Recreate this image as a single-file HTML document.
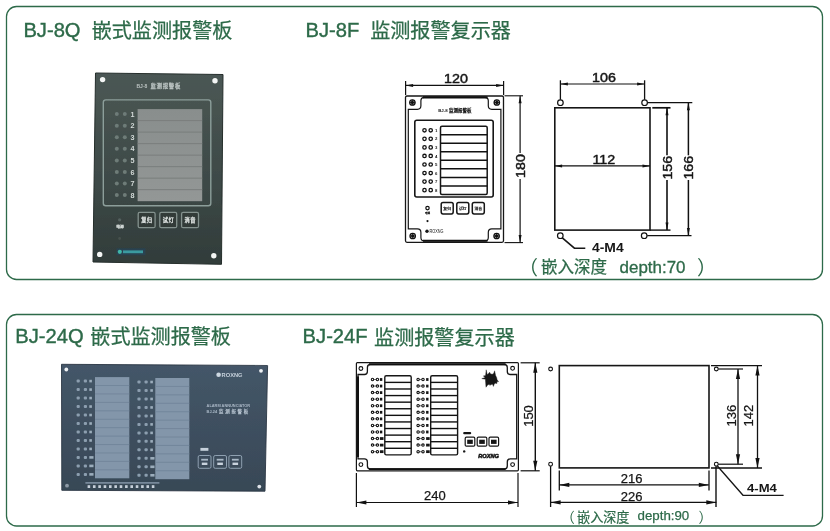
<!DOCTYPE html><html><head><meta charset="utf-8"><title>BJ</title><style>html,body{margin:0;padding:0;background:#fff}svg{display:block;will-change:transform}</style></head><body><svg role="img" aria-label="BJ-8Q 嵌式监测报警板 / BJ-8F 监测报警复示器 / BJ-24Q 嵌式监测报警板 / BJ-24F 监测报警复示器" width="830" height="531" viewBox="0 0 830 531"><rect width="830" height="531" fill="#fff"/>
<rect x="6.50" y="6.50" width="816.00" height="273.00" rx="10" fill="none" stroke="#2d6a49" stroke-width="1.3" />
<rect x="6.50" y="314.50" width="816.00" height="211.50" rx="10" fill="none" stroke="#2d6a49" stroke-width="1.3" />
<text transform="translate(23.40,36.50) scale(0.97,1)" font-family="Liberation Sans, sans-serif" font-size="20.8" font-weight="normal" fill="#2d6a49" text-anchor="start"  stroke="#2d6a49" stroke-width="0.4">BJ-8Q</text>
<text x="91.7" y="38.2" font-family="'Liberation Sans', 'Noto Sans CJK SC', sans-serif" font-size="20.1" fill="#2d6a49" stroke="#2d6a49" stroke-width="0.25" text-anchor="start">嵌式监测报警板</text>
<text transform="translate(305.50,36.50) scale(0.97,1)" font-family="Liberation Sans, sans-serif" font-size="20.8" font-weight="normal" fill="#2d6a49" text-anchor="start"  stroke="#2d6a49" stroke-width="0.4">BJ-8F</text>
<text x="370.2" y="38.2" font-family="'Liberation Sans', 'Noto Sans CJK SC', sans-serif" font-size="20.1" fill="#2d6a49" stroke="#2d6a49" stroke-width="0.25" text-anchor="start">监测报警复示器</text>
<text transform="translate(15.30,342.60) scale(0.97,1)" font-family="Liberation Sans, sans-serif" font-size="20.8" font-weight="normal" fill="#2d6a49" text-anchor="start"  stroke="#2d6a49" stroke-width="0.4">BJ-24Q</text>
<text x="90.3" y="344.4" font-family="'Liberation Sans', 'Noto Sans CJK SC', sans-serif" font-size="20.1" fill="#2d6a49" stroke="#2d6a49" stroke-width="0.25" text-anchor="start">嵌式监测报警板</text>
<text transform="translate(302.60,342.60) scale(0.97,1)" font-family="Liberation Sans, sans-serif" font-size="20.8" font-weight="normal" fill="#2d6a49" text-anchor="start"  stroke="#2d6a49" stroke-width="0.4">BJ-24F</text>
<text x="374.1" y="344.6" font-family="'Liberation Sans', 'Noto Sans CJK SC', sans-serif" font-size="20.1" fill="#2d6a49" stroke="#2d6a49" stroke-width="0.25" text-anchor="start">监测报警复示器</text>
<defs><linearGradient id="p1" x1="0" y1="0" x2="0" y2="1"><stop offset="0" stop-color="#4b5754"/><stop offset="0.5" stop-color="#3f4b49"/><stop offset="1" stop-color="#313c3a"/></linearGradient><linearGradient id="p2" x1="0" y1="0" x2="0" y2="1"><stop offset="0" stop-color="#445668"/><stop offset="1" stop-color="#384856"/></linearGradient><linearGradient id="d1" x1="0" y1="0" x2="0" y2="1"><stop offset="0" stop-color="#898e8d"/><stop offset="1" stop-color="#939796"/></linearGradient><filter id="b1" x="-5%" y="-5%" width="110%" height="110%"><feGaussianBlur stdDeviation="0.7"/></filter><filter id="b2" x="-5%" y="-5%" width="110%" height="110%"><feGaussianBlur stdDeviation="0.5"/></filter></defs>
<g filter="url(#b1)">
<polygon points="95.5,73 223,74.5 221.5,264.3 93,262" fill="url(#p1)"/>
<polygon points="95.5,73 223,74.5 221.5,264.3 93,262" fill="none" stroke="#252e2c" stroke-width="1"/>
<circle cx="102.6" cy="79.6" r="2.7" fill="#f4f6f5"/>
<circle cx="215" cy="80.8" r="2.7" fill="#f4f6f5"/>
<circle cx="99.7" cy="254.4" r="2.7" fill="#f4f6f5"/>
<circle cx="213.8" cy="255.7" r="2.7" fill="#f4f6f5"/>
<text transform="translate(136.50,88.40) scale(1.0,1)" font-family="Liberation Sans, sans-serif" font-size="5" font-weight="bold" fill="#b9c2c0" text-anchor="start" >BJ-8</text>
<text x="150.5 156.6 162.7 168.8 174.9" y="88.35" font-family="'Liberation Sans', 'Noto Sans CJK SC', sans-serif" font-size="5.4" fill="#b9c2c0" stroke="#b9c2c0" stroke-width="0.3" text-anchor="start">监测报警板</text>
<rect x="103.30" y="99.90" width="107.50" height="105.90" rx="2.5" fill="none" stroke="#8c9e9a" stroke-width="1.4" />
<rect x="137.60" y="109.10" width="64.60" height="92.10" rx="0" fill="url(#d1)" stroke="none" stroke-width="0" />
<line x1="137.60" y1="120.61" x2="202.20" y2="120.61" stroke="#777c7b" stroke-width="0.9" />
<line x1="137.60" y1="132.12" x2="202.20" y2="132.12" stroke="#777c7b" stroke-width="0.9" />
<line x1="137.60" y1="143.63" x2="202.20" y2="143.63" stroke="#777c7b" stroke-width="0.9" />
<line x1="137.60" y1="155.14" x2="202.20" y2="155.14" stroke="#777c7b" stroke-width="0.9" />
<line x1="137.60" y1="166.65" x2="202.20" y2="166.65" stroke="#777c7b" stroke-width="0.9" />
<line x1="137.60" y1="178.16" x2="202.20" y2="178.16" stroke="#777c7b" stroke-width="0.9" />
<line x1="137.60" y1="189.67" x2="202.20" y2="189.67" stroke="#777c7b" stroke-width="0.9" />
<circle cx="116.8" cy="114.10" r="2" fill="#6e7b78"/>
<circle cx="124.8" cy="114.10" r="2" fill="#6e7b78"/>
<text transform="translate(132.40,116.70) scale(1.0,1)" font-family="Liberation Sans, sans-serif" font-size="7.2" font-weight="bold" fill="#d3dad8" text-anchor="middle" >1</text>
<circle cx="116.8" cy="125.67" r="2" fill="#6e7b78"/>
<circle cx="124.8" cy="125.67" r="2" fill="#6e7b78"/>
<text transform="translate(132.40,128.27) scale(1.0,1)" font-family="Liberation Sans, sans-serif" font-size="7.2" font-weight="bold" fill="#d3dad8" text-anchor="middle" >2</text>
<circle cx="116.8" cy="137.24" r="2" fill="#6e7b78"/>
<circle cx="124.8" cy="137.24" r="2" fill="#6e7b78"/>
<text transform="translate(132.40,139.84) scale(1.0,1)" font-family="Liberation Sans, sans-serif" font-size="7.2" font-weight="bold" fill="#d3dad8" text-anchor="middle" >3</text>
<circle cx="116.8" cy="148.81" r="2" fill="#6e7b78"/>
<circle cx="124.8" cy="148.81" r="2" fill="#6e7b78"/>
<text transform="translate(132.40,151.41) scale(1.0,1)" font-family="Liberation Sans, sans-serif" font-size="7.2" font-weight="bold" fill="#d3dad8" text-anchor="middle" >4</text>
<circle cx="116.8" cy="160.38" r="2" fill="#6e7b78"/>
<circle cx="124.8" cy="160.38" r="2" fill="#6e7b78"/>
<text transform="translate(132.40,162.98) scale(1.0,1)" font-family="Liberation Sans, sans-serif" font-size="7.2" font-weight="bold" fill="#d3dad8" text-anchor="middle" >5</text>
<circle cx="116.8" cy="171.95" r="2" fill="#6e7b78"/>
<circle cx="124.8" cy="171.95" r="2" fill="#6e7b78"/>
<text transform="translate(132.40,174.55) scale(1.0,1)" font-family="Liberation Sans, sans-serif" font-size="7.2" font-weight="bold" fill="#d3dad8" text-anchor="middle" >6</text>
<circle cx="116.8" cy="183.52" r="2" fill="#6e7b78"/>
<circle cx="124.8" cy="183.52" r="2" fill="#6e7b78"/>
<text transform="translate(132.40,186.12) scale(1.0,1)" font-family="Liberation Sans, sans-serif" font-size="7.2" font-weight="bold" fill="#d3dad8" text-anchor="middle" >7</text>
<circle cx="116.8" cy="195.09" r="2" fill="#6e7b78"/>
<circle cx="124.8" cy="195.09" r="2" fill="#6e7b78"/>
<text transform="translate(132.40,197.69) scale(1.0,1)" font-family="Liberation Sans, sans-serif" font-size="7.2" font-weight="bold" fill="#d3dad8" text-anchor="middle" >8</text>
<rect x="138.20" y="212.40" width="16.90" height="15.30" rx="1.5" fill="#303a38" stroke="#84928e" stroke-width="1.3" />
<rect x="159.80" y="212.40" width="16.90" height="15.30" rx="1.5" fill="#303a38" stroke="#84928e" stroke-width="1.3" />
<rect x="181.60" y="212.40" width="16.90" height="15.30" rx="1.5" fill="#303a38" stroke="#84928e" stroke-width="1.3" />
<text x="141.2 146.8" y="221.8" font-family="'Liberation Sans', 'Noto Sans CJK SC', sans-serif" font-size="5.2" fill="#dfe4e2" stroke="#dfe4e2" stroke-width="0.3" text-anchor="start">复归</text>
<text x="162.8 168.4" y="221.8" font-family="'Liberation Sans', 'Noto Sans CJK SC', sans-serif" font-size="5.2" fill="#dfe4e2" stroke="#dfe4e2" stroke-width="0.3" text-anchor="start">试灯</text>
<text x="184.6 190.2" y="221.8" font-family="'Liberation Sans', 'Noto Sans CJK SC', sans-serif" font-size="5.2" fill="#dfe4e2" stroke="#dfe4e2" stroke-width="0.3" text-anchor="start">消音</text>
<circle cx="119.6" cy="219.8" r="1.6" fill="#56625f"/>
<text x="116.2 120.1" y="228.1" font-family="'Liberation Sans', 'Noto Sans CJK SC', sans-serif" font-size="3.8" fill="#d5dbd9" stroke="#d5dbd9" stroke-width="0.3" text-anchor="start">电源</text>
<circle cx="119.6" cy="238.5" r="1.4" fill="#46514e"/>
<rect x="116.5" y="248.3" width="29" height="7" fill="#27465a" opacity="0.7"/>
<circle cx="119.8" cy="251.8" r="2.1" fill="#3fb6a8"/>
<rect x="123" y="250.4" width="20" height="2.8" fill="#3a9aa0"/>
</g>
<text transform="translate(456.00,83.00) scale(1.1,1)" font-family="Liberation Sans, sans-serif" font-size="13" font-weight="normal" fill="#161616" text-anchor="middle"  stroke="#161616" stroke-width="0.45">120</text>
<line x1="405.60" y1="85.40" x2="503.60" y2="85.40" stroke="#111" stroke-width="1.1" />
<polygon points="405.60,85.40 413.10,83.90 413.10,86.90" fill="#111"/>
<polygon points="503.60,85.40 496.10,86.90 496.10,83.90" fill="#111"/>
<line x1="405.60" y1="81.00" x2="405.60" y2="95.00" stroke="#111" stroke-width="1.2" />
<line x1="503.60" y1="81.00" x2="503.60" y2="95.00" stroke="#111" stroke-width="1.2" />
<rect x="405.50" y="96.00" width="98.00" height="146.30" rx="1.5" fill="#fff" stroke="#161616" stroke-width="1.3" />
<path d="M424.40000000000003,97.3 L484.79999999999995,97.3 Q488.29999999999995,97.3 488.29999999999995,100.8 L488.29999999999995,105.8 Q488.29999999999995,109.3 491.79999999999995,109.3 L500.9,109.3 L500.9,228.9 L491.79999999999995,228.9 Q488.29999999999995,228.9 488.29999999999995,232.4 L488.29999999999995,237.4 Q488.29999999999995,240.9 484.79999999999995,240.9 L424.40000000000003,240.9 Q420.90000000000003,240.9 420.90000000000003,237.4 L420.90000000000003,232.4 Q420.90000000000003,228.9 417.40000000000003,228.9 L408.3,228.9 L408.3,109.3 L417.40000000000003,109.3 Q420.90000000000003,109.3 420.90000000000003,105.8 L420.90000000000003,100.8 Q420.90000000000003,97.3 424.40000000000003,97.3 Z" fill="none" stroke="#161616" stroke-width="1.2"/>
<line x1="423.00" y1="97.40" x2="487.50" y2="97.40" stroke="#111" stroke-width="2.1" />
<line x1="423.00" y1="240.70" x2="487.50" y2="240.70" stroke="#111" stroke-width="2.1" />
<circle cx="412.40" cy="102.50" r="2.7" fill="#fff" stroke="#111" stroke-width="1.3"/>
<circle cx="412.4" cy="102.5" r="1.7" fill="#161616"/>
<line x1="409.70" y1="102.50" x2="415.10" y2="102.50" stroke="#111" stroke-width="0.8" />
<line x1="412.40" y1="99.80" x2="412.40" y2="105.20" stroke="#111" stroke-width="0.8" />
<circle cx="496.80" cy="102.50" r="2.7" fill="#fff" stroke="#111" stroke-width="1.3"/>
<circle cx="496.8" cy="102.5" r="1.7" fill="#161616"/>
<line x1="494.10" y1="102.50" x2="499.50" y2="102.50" stroke="#111" stroke-width="0.8" />
<line x1="496.80" y1="99.80" x2="496.80" y2="105.20" stroke="#111" stroke-width="0.8" />
<circle cx="412.70" cy="236.00" r="2.7" fill="#fff" stroke="#111" stroke-width="1.3"/>
<circle cx="412.7" cy="236" r="1.7" fill="#161616"/>
<line x1="410.00" y1="236.00" x2="415.40" y2="236.00" stroke="#111" stroke-width="0.8" />
<line x1="412.70" y1="233.30" x2="412.70" y2="238.70" stroke="#111" stroke-width="0.8" />
<circle cx="496.60" cy="236.00" r="2.7" fill="#fff" stroke="#111" stroke-width="1.3"/>
<circle cx="496.6" cy="236" r="1.7" fill="#161616"/>
<line x1="493.90" y1="236.00" x2="499.30" y2="236.00" stroke="#111" stroke-width="0.8" />
<line x1="496.60" y1="233.30" x2="496.60" y2="238.70" stroke="#111" stroke-width="0.8" />
<text transform="translate(438.20,111.60) scale(1.0,1)" font-family="Liberation Sans, sans-serif" font-size="4.4" font-weight="bold" fill="#161616" text-anchor="start" >BJ-8</text>
<text x="449 453.5 458 462.5 467" y="111.6" font-family="'Liberation Sans', 'Noto Sans CJK SC', sans-serif" font-size="4.5" fill="#161616" stroke="#161616" stroke-width="0.25" text-anchor="start">监测报警板</text>
<rect x="414.80" y="120.30" width="78.40" height="76.70" rx="2" fill="none" stroke="#161616" stroke-width="1.6" />
<rect x="440.50" y="126.20" width="46.70" height="68.20" rx="1.5" fill="none" stroke="#161616" stroke-width="1.5" />
<line x1="440.50" y1="134.73" x2="487.20" y2="134.73" stroke="#111" stroke-width="1.5" />
<line x1="440.50" y1="143.26" x2="487.20" y2="143.26" stroke="#111" stroke-width="1.5" />
<line x1="440.50" y1="151.79" x2="487.20" y2="151.79" stroke="#111" stroke-width="1.5" />
<line x1="440.50" y1="160.32" x2="487.20" y2="160.32" stroke="#111" stroke-width="1.5" />
<line x1="440.50" y1="168.85" x2="487.20" y2="168.85" stroke="#111" stroke-width="1.5" />
<line x1="440.50" y1="177.38" x2="487.20" y2="177.38" stroke="#111" stroke-width="1.5" />
<line x1="440.50" y1="185.91" x2="487.20" y2="185.91" stroke="#111" stroke-width="1.5" />
<circle cx="424.50" cy="130.30" r="1.7" fill="#fff" stroke="#111" stroke-width="1.3"/>
<circle cx="430.70" cy="130.30" r="1.7" fill="#fff" stroke="#111" stroke-width="1.3"/>
<text transform="translate(436.20,131.90) scale(1.0,1)" font-family="Liberation Sans, sans-serif" font-size="4.3" font-weight="bold" fill="#161616" text-anchor="middle" >1</text>
<circle cx="424.50" cy="138.85" r="1.7" fill="#fff" stroke="#111" stroke-width="1.3"/>
<circle cx="430.70" cy="138.85" r="1.7" fill="#fff" stroke="#111" stroke-width="1.3"/>
<text transform="translate(436.20,140.45) scale(1.0,1)" font-family="Liberation Sans, sans-serif" font-size="4.3" font-weight="bold" fill="#161616" text-anchor="middle" >2</text>
<circle cx="424.50" cy="147.40" r="1.7" fill="#fff" stroke="#111" stroke-width="1.3"/>
<circle cx="430.70" cy="147.40" r="1.7" fill="#fff" stroke="#111" stroke-width="1.3"/>
<text transform="translate(436.20,149.00) scale(1.0,1)" font-family="Liberation Sans, sans-serif" font-size="4.3" font-weight="bold" fill="#161616" text-anchor="middle" >3</text>
<circle cx="424.50" cy="155.95" r="1.7" fill="#fff" stroke="#111" stroke-width="1.3"/>
<circle cx="430.70" cy="155.95" r="1.7" fill="#fff" stroke="#111" stroke-width="1.3"/>
<text transform="translate(436.20,157.55) scale(1.0,1)" font-family="Liberation Sans, sans-serif" font-size="4.3" font-weight="bold" fill="#161616" text-anchor="middle" >4</text>
<circle cx="424.50" cy="164.50" r="1.7" fill="#fff" stroke="#111" stroke-width="1.3"/>
<circle cx="430.70" cy="164.50" r="1.7" fill="#fff" stroke="#111" stroke-width="1.3"/>
<text transform="translate(436.20,166.10) scale(1.0,1)" font-family="Liberation Sans, sans-serif" font-size="4.3" font-weight="bold" fill="#161616" text-anchor="middle" >5</text>
<circle cx="424.50" cy="173.05" r="1.7" fill="#fff" stroke="#111" stroke-width="1.3"/>
<circle cx="430.70" cy="173.05" r="1.7" fill="#fff" stroke="#111" stroke-width="1.3"/>
<text transform="translate(436.20,174.65) scale(1.0,1)" font-family="Liberation Sans, sans-serif" font-size="4.3" font-weight="bold" fill="#161616" text-anchor="middle" >6</text>
<circle cx="424.50" cy="181.60" r="1.7" fill="#fff" stroke="#111" stroke-width="1.3"/>
<circle cx="430.70" cy="181.60" r="1.7" fill="#fff" stroke="#111" stroke-width="1.3"/>
<text transform="translate(436.20,183.20) scale(1.0,1)" font-family="Liberation Sans, sans-serif" font-size="4.3" font-weight="bold" fill="#161616" text-anchor="middle" >7</text>
<circle cx="424.50" cy="190.15" r="1.7" fill="#fff" stroke="#111" stroke-width="1.3"/>
<circle cx="430.70" cy="190.15" r="1.7" fill="#fff" stroke="#111" stroke-width="1.3"/>
<text transform="translate(436.20,191.75) scale(1.0,1)" font-family="Liberation Sans, sans-serif" font-size="4.3" font-weight="bold" fill="#161616" text-anchor="middle" >8</text>
<rect x="441.20" y="202.40" width="12.00" height="11.50" rx="1.8" fill="none" stroke="#161616" stroke-width="1.5" />
<rect x="456.80" y="202.40" width="12.00" height="11.50" rx="1.8" fill="none" stroke="#161616" stroke-width="1.5" />
<rect x="472.30" y="202.40" width="12.00" height="11.50" rx="1.8" fill="none" stroke="#161616" stroke-width="1.5" />
<text x="443.3 447.2" y="209.5" font-family="'Liberation Sans', 'Noto Sans CJK SC', sans-serif" font-size="3.9" fill="#161616" stroke="#161616" stroke-width="0.2" text-anchor="start">复归</text>
<text x="458.9 462.8" y="209.5" font-family="'Liberation Sans', 'Noto Sans CJK SC', sans-serif" font-size="3.9" fill="#161616" stroke="#161616" stroke-width="0.2" text-anchor="start">试灯</text>
<text x="474.4 478.3" y="209.5" font-family="'Liberation Sans', 'Noto Sans CJK SC', sans-serif" font-size="3.9" fill="#161616" stroke="#161616" stroke-width="0.2" text-anchor="start">消音</text>
<circle cx="427.50" cy="208.10" r="1.7" fill="#fff" stroke="#111" stroke-width="1.2"/>
<text x="424.9 427.5" y="214.0" font-family="'Liberation Sans', 'Noto Sans CJK SC', sans-serif" font-size="2.6" fill="#161616" stroke="#161616" stroke-width="0.2" text-anchor="start">电源</text>
<circle cx="427.5" cy="221.1" r="1.1" fill="#161616"/>
<circle cx="427" cy="231.2" r="1.7" fill="#161616"/>
<text transform="translate(429.60,232.90) scale(0.76,1)" font-family="Liberation Sans, sans-serif" font-size="5" font-weight="normal" fill="#161616" text-anchor="start" >ROXNG</text>
<line x1="504.50" y1="95.80" x2="523.00" y2="95.80" stroke="#111" stroke-width="1.1" />
<line x1="504.50" y1="242.60" x2="523.00" y2="242.60" stroke="#111" stroke-width="1.1" />
<line x1="520.10" y1="95.80" x2="520.10" y2="153.00" stroke="#111" stroke-width="1.2" />
<line x1="520.10" y1="179.00" x2="520.10" y2="242.60" stroke="#111" stroke-width="1.2" />
<polygon points="520.10,95.80 521.60,103.30 518.60,103.30" fill="#111"/>
<polygon points="520.10,242.60 518.60,235.10 521.60,235.10" fill="#111"/>
<text transform="translate(524.60,166.10) rotate(-90) scale(1.1,1)" font-family="Liberation Sans, sans-serif" font-size="13" font-weight="normal" fill="#161616" text-anchor="middle"  stroke="#161616" stroke-width="0.45">180</text>
<text transform="translate(604.00,82.20) scale(1.1,1)" font-family="Liberation Sans, sans-serif" font-size="13" font-weight="normal" fill="#161616" text-anchor="middle"  stroke="#161616" stroke-width="0.45">106</text>
<line x1="560.40" y1="84.00" x2="644.60" y2="84.00" stroke="#111" stroke-width="1.1" />
<polygon points="560.40,84.00 567.90,82.50 567.90,85.50" fill="#111"/>
<polygon points="644.60,84.00 637.10,85.50 637.10,82.50" fill="#111"/>
<line x1="560.40" y1="80.30" x2="560.40" y2="99.70" stroke="#111" stroke-width="1.3" />
<line x1="644.60" y1="80.30" x2="644.60" y2="99.70" stroke="#111" stroke-width="1.3" />
<circle cx="560.40" cy="102.70" r="2.8" fill="#fff" stroke="#111" stroke-width="1.2"/>
<circle cx="644.60" cy="102.70" r="2.8" fill="#fff" stroke="#111" stroke-width="1.2"/>
<circle cx="560.30" cy="235.70" r="2.8" fill="#fff" stroke="#111" stroke-width="1.2"/>
<circle cx="644.20" cy="235.70" r="2.8" fill="#fff" stroke="#111" stroke-width="1.2"/>
<rect x="554.80" y="107.80" width="95.20" height="122.30" rx="0" fill="none" stroke="#161616" stroke-width="1.6" />
<text transform="translate(603.80,163.60) scale(1.1,1)" font-family="Liberation Sans, sans-serif" font-size="13" font-weight="normal" fill="#161616" text-anchor="middle"  stroke="#161616" stroke-width="0.45">112</text>
<line x1="554.60" y1="165.90" x2="650.00" y2="165.90" stroke="#111" stroke-width="1.1" />
<polygon points="554.60,165.90 562.10,164.40 562.10,167.40" fill="#111"/>
<polygon points="650.00,165.90 642.50,167.40 642.50,164.40" fill="#111"/>
<line x1="647.60" y1="102.70" x2="692.30" y2="102.70" stroke="#111" stroke-width="1.3" />
<line x1="652.30" y1="107.80" x2="670.50" y2="107.80" stroke="#111" stroke-width="1.7" />
<line x1="650.00" y1="230.10" x2="670.50" y2="230.10" stroke="#111" stroke-width="1.4" />
<line x1="647.20" y1="235.70" x2="691.50" y2="235.70" stroke="#111" stroke-width="1.3" />
<line x1="667.00" y1="107.80" x2="667.00" y2="155.30" stroke="#111" stroke-width="1.6" />
<line x1="667.00" y1="180.00" x2="667.00" y2="230.10" stroke="#111" stroke-width="1.6" />
<polygon points="667.00,107.80 668.50,115.30 665.50,115.30" fill="#111"/>
<polygon points="667.00,230.10 665.50,222.60 668.50,222.60" fill="#111"/>
<line x1="688.40" y1="102.70" x2="688.40" y2="155.30" stroke="#111" stroke-width="1.5" />
<line x1="688.40" y1="180.00" x2="688.40" y2="235.60" stroke="#111" stroke-width="1.5" />
<polygon points="688.40,102.70 689.90,110.20 686.90,110.20" fill="#111"/>
<polygon points="688.40,235.60 686.90,228.10 689.90,228.10" fill="#111"/>
<text transform="translate(671.80,167.70) rotate(-90) scale(1.1,1)" font-family="Liberation Sans, sans-serif" font-size="13" font-weight="normal" fill="#161616" text-anchor="middle"  stroke="#161616" stroke-width="0.45">156</text>
<text transform="translate(693.20,167.70) rotate(-90) scale(1.1,1)" font-family="Liberation Sans, sans-serif" font-size="13" font-weight="normal" fill="#161616" text-anchor="middle"  stroke="#161616" stroke-width="0.45">166</text>
<polyline points="562.3,237.9 574.4,248.2 585.3,248.2" fill="none" stroke="#161616" stroke-width="1.6"/>
<text transform="translate(592.00,252.40) scale(1.07,1)" font-family="Liberation Sans, sans-serif" font-size="13" font-weight="bold" fill="#161616" text-anchor="start" >4-M4</text>
<text x="518.4" y="275.1" font-family="'Liberation Sans', 'Noto Sans CJK SC', sans-serif" font-size="19.5" fill="#2d6a49" text-anchor="start">（</text>
<text x="541" y="273.0" font-family="'Liberation Sans', 'Noto Sans CJK SC', sans-serif" font-size="16.5" fill="#2d6a49" stroke="#2d6a49" stroke-width="0.25" text-anchor="start">嵌入深度</text>
<text transform="translate(619.60,272.50) scale(1.06,1)" font-family="Liberation Sans, sans-serif" font-size="16" font-weight="normal" fill="#2d6a49" text-anchor="start"  stroke="#2d6a49" stroke-width="0.3">depth:70</text>
<text x="696.9" y="275.1" font-family="'Liberation Sans', 'Noto Sans CJK SC', sans-serif" font-size="19.5" fill="#2d6a49" text-anchor="start">）</text>
<g filter="url(#b2)">
<polygon points="61.5,364.3 267.6,365.5 265,491.2 61.8,490.3" fill="url(#p2)"/>
<polygon points="61.5,364.3 267.6,365.5 265,491.2 61.8,490.3" fill="none" stroke="#2b3744" stroke-width="0.9"/>
<circle cx="66.3" cy="369.5" r="1.9" fill="#eef1f4"/>
<circle cx="261" cy="370.8" r="1.9" fill="#eef1f4"/>
<circle cx="67" cy="485.7" r="1.9" fill="#8e9aa6"/>
<circle cx="259.3" cy="486.6" r="1.9" fill="#dfe4e9"/>
<rect x="95.00" y="377.10" width="34.30" height="101.20" rx="0" fill="#8396aa" stroke="none" stroke-width="0" />
<line x1="95.00" y1="385.53" x2="129.30" y2="385.53" stroke="#6f8398" stroke-width="0.8" />
<line x1="95.00" y1="393.96" x2="129.30" y2="393.96" stroke="#6f8398" stroke-width="0.8" />
<line x1="95.00" y1="402.39" x2="129.30" y2="402.39" stroke="#6f8398" stroke-width="0.8" />
<line x1="95.00" y1="410.82" x2="129.30" y2="410.82" stroke="#6f8398" stroke-width="0.8" />
<line x1="95.00" y1="419.25" x2="129.30" y2="419.25" stroke="#6f8398" stroke-width="0.8" />
<line x1="95.00" y1="427.68" x2="129.30" y2="427.68" stroke="#6f8398" stroke-width="0.8" />
<line x1="95.00" y1="436.11" x2="129.30" y2="436.11" stroke="#6f8398" stroke-width="0.8" />
<line x1="95.00" y1="444.54" x2="129.30" y2="444.54" stroke="#6f8398" stroke-width="0.8" />
<line x1="95.00" y1="452.97" x2="129.30" y2="452.97" stroke="#6f8398" stroke-width="0.8" />
<line x1="95.00" y1="461.40" x2="129.30" y2="461.40" stroke="#6f8398" stroke-width="0.8" />
<line x1="95.00" y1="469.83" x2="129.30" y2="469.83" stroke="#6f8398" stroke-width="0.8" />
<rect x="155.30" y="378.00" width="34.00" height="101.20" rx="0" fill="#8396aa" stroke="none" stroke-width="0" />
<line x1="155.30" y1="386.43" x2="189.30" y2="386.43" stroke="#6f8398" stroke-width="0.8" />
<line x1="155.30" y1="394.86" x2="189.30" y2="394.86" stroke="#6f8398" stroke-width="0.8" />
<line x1="155.30" y1="403.29" x2="189.30" y2="403.29" stroke="#6f8398" stroke-width="0.8" />
<line x1="155.30" y1="411.72" x2="189.30" y2="411.72" stroke="#6f8398" stroke-width="0.8" />
<line x1="155.30" y1="420.15" x2="189.30" y2="420.15" stroke="#6f8398" stroke-width="0.8" />
<line x1="155.30" y1="428.58" x2="189.30" y2="428.58" stroke="#6f8398" stroke-width="0.8" />
<line x1="155.30" y1="437.01" x2="189.30" y2="437.01" stroke="#6f8398" stroke-width="0.8" />
<line x1="155.30" y1="445.44" x2="189.30" y2="445.44" stroke="#6f8398" stroke-width="0.8" />
<line x1="155.30" y1="453.87" x2="189.30" y2="453.87" stroke="#6f8398" stroke-width="0.8" />
<line x1="155.30" y1="462.30" x2="189.30" y2="462.30" stroke="#6f8398" stroke-width="0.8" />
<line x1="155.30" y1="470.73" x2="189.30" y2="470.73" stroke="#6f8398" stroke-width="0.8" />
<rect x="76.60000000000001" y="379.60" width="3.2" height="3" rx="1" fill="#8c9eaf"/>
<rect x="83.80000000000001" y="379.60" width="3.2" height="3" rx="1" fill="#8c9eaf"/>
<rect x="89.3" y="379.80" width="2.6" height="2.6" fill="#9cadbc"/>
<rect x="76.60000000000001" y="388.08" width="3.2" height="3" rx="1" fill="#8c9eaf"/>
<rect x="83.80000000000001" y="388.08" width="3.2" height="3" rx="1" fill="#8c9eaf"/>
<rect x="89.3" y="388.28" width="2.6" height="2.6" fill="#9cadbc"/>
<rect x="76.60000000000001" y="396.56" width="3.2" height="3" rx="1" fill="#8c9eaf"/>
<rect x="83.80000000000001" y="396.56" width="3.2" height="3" rx="1" fill="#8c9eaf"/>
<rect x="89.3" y="396.76" width="2.6" height="2.6" fill="#9cadbc"/>
<rect x="76.60000000000001" y="405.04" width="3.2" height="3" rx="1" fill="#8c9eaf"/>
<rect x="83.80000000000001" y="405.04" width="3.2" height="3" rx="1" fill="#8c9eaf"/>
<rect x="89.3" y="405.24" width="2.6" height="2.6" fill="#9cadbc"/>
<rect x="76.60000000000001" y="413.52" width="3.2" height="3" rx="1" fill="#8c9eaf"/>
<rect x="83.80000000000001" y="413.52" width="3.2" height="3" rx="1" fill="#8c9eaf"/>
<rect x="89.3" y="413.72" width="2.6" height="2.6" fill="#9cadbc"/>
<rect x="76.60000000000001" y="422.00" width="3.2" height="3" rx="1" fill="#8c9eaf"/>
<rect x="83.80000000000001" y="422.00" width="3.2" height="3" rx="1" fill="#8c9eaf"/>
<rect x="89.3" y="422.20" width="2.6" height="2.6" fill="#9cadbc"/>
<rect x="76.60000000000001" y="430.48" width="3.2" height="3" rx="1" fill="#8c9eaf"/>
<rect x="83.80000000000001" y="430.48" width="3.2" height="3" rx="1" fill="#8c9eaf"/>
<rect x="89.3" y="430.68" width="2.6" height="2.6" fill="#9cadbc"/>
<rect x="76.60000000000001" y="438.96" width="3.2" height="3" rx="1" fill="#8c9eaf"/>
<rect x="83.80000000000001" y="438.96" width="3.2" height="3" rx="1" fill="#8c9eaf"/>
<rect x="89.3" y="439.16" width="2.6" height="2.6" fill="#9cadbc"/>
<rect x="76.60000000000001" y="447.44" width="3.2" height="3" rx="1" fill="#8c9eaf"/>
<rect x="83.80000000000001" y="447.44" width="3.2" height="3" rx="1" fill="#8c9eaf"/>
<rect x="89.3" y="447.64" width="2.6" height="2.6" fill="#9cadbc"/>
<rect x="76.60000000000001" y="455.92" width="3.2" height="3" rx="1" fill="#8c9eaf"/>
<rect x="83.80000000000001" y="455.92" width="3.2" height="3" rx="1" fill="#8c9eaf"/>
<rect x="89.3" y="456.12" width="4.2" height="2.6" fill="#9cadbc"/>
<rect x="76.60000000000001" y="464.40" width="3.2" height="3" rx="1" fill="#8c9eaf"/>
<rect x="83.80000000000001" y="464.40" width="3.2" height="3" rx="1" fill="#8c9eaf"/>
<rect x="89.3" y="464.60" width="4.2" height="2.6" fill="#9cadbc"/>
<rect x="76.60000000000001" y="472.88" width="3.2" height="3" rx="1" fill="#8c9eaf"/>
<rect x="83.80000000000001" y="472.88" width="3.2" height="3" rx="1" fill="#8c9eaf"/>
<rect x="89.3" y="473.08" width="4.2" height="2.6" fill="#9cadbc"/>
<rect x="137.4" y="380.50" width="3.2" height="3" rx="1" fill="#8c9eaf"/>
<rect x="144.5" y="380.50" width="3.2" height="3" rx="1" fill="#8c9eaf"/>
<rect x="150.29999999999998" y="380.70" width="2.6" height="2.6" fill="#9cadbc"/>
<rect x="137.4" y="388.98" width="3.2" height="3" rx="1" fill="#8c9eaf"/>
<rect x="144.5" y="388.98" width="3.2" height="3" rx="1" fill="#8c9eaf"/>
<rect x="150.29999999999998" y="389.18" width="2.6" height="2.6" fill="#9cadbc"/>
<rect x="137.4" y="397.46" width="3.2" height="3" rx="1" fill="#8c9eaf"/>
<rect x="144.5" y="397.46" width="3.2" height="3" rx="1" fill="#8c9eaf"/>
<rect x="150.29999999999998" y="397.66" width="2.6" height="2.6" fill="#9cadbc"/>
<rect x="137.4" y="405.94" width="3.2" height="3" rx="1" fill="#8c9eaf"/>
<rect x="144.5" y="405.94" width="3.2" height="3" rx="1" fill="#8c9eaf"/>
<rect x="150.29999999999998" y="406.14" width="2.6" height="2.6" fill="#9cadbc"/>
<rect x="137.4" y="414.42" width="3.2" height="3" rx="1" fill="#8c9eaf"/>
<rect x="144.5" y="414.42" width="3.2" height="3" rx="1" fill="#8c9eaf"/>
<rect x="150.29999999999998" y="414.62" width="2.6" height="2.6" fill="#9cadbc"/>
<rect x="137.4" y="422.90" width="3.2" height="3" rx="1" fill="#8c9eaf"/>
<rect x="144.5" y="422.90" width="3.2" height="3" rx="1" fill="#8c9eaf"/>
<rect x="150.29999999999998" y="423.10" width="2.6" height="2.6" fill="#9cadbc"/>
<rect x="137.4" y="431.38" width="3.2" height="3" rx="1" fill="#8c9eaf"/>
<rect x="144.5" y="431.38" width="3.2" height="3" rx="1" fill="#8c9eaf"/>
<rect x="150.29999999999998" y="431.58" width="2.6" height="2.6" fill="#9cadbc"/>
<rect x="137.4" y="439.86" width="3.2" height="3" rx="1" fill="#8c9eaf"/>
<rect x="144.5" y="439.86" width="3.2" height="3" rx="1" fill="#8c9eaf"/>
<rect x="150.29999999999998" y="440.06" width="2.6" height="2.6" fill="#9cadbc"/>
<rect x="137.4" y="448.34" width="3.2" height="3" rx="1" fill="#8c9eaf"/>
<rect x="144.5" y="448.34" width="3.2" height="3" rx="1" fill="#8c9eaf"/>
<rect x="150.29999999999998" y="448.54" width="2.6" height="2.6" fill="#9cadbc"/>
<rect x="137.4" y="456.82" width="3.2" height="3" rx="1" fill="#8c9eaf"/>
<rect x="144.5" y="456.82" width="3.2" height="3" rx="1" fill="#8c9eaf"/>
<rect x="150.29999999999998" y="457.02" width="4.2" height="2.6" fill="#9cadbc"/>
<rect x="137.4" y="465.30" width="3.2" height="3" rx="1" fill="#8c9eaf"/>
<rect x="144.5" y="465.30" width="3.2" height="3" rx="1" fill="#8c9eaf"/>
<rect x="150.29999999999998" y="465.50" width="4.2" height="2.6" fill="#9cadbc"/>
<rect x="137.4" y="473.78" width="3.2" height="3" rx="1" fill="#8c9eaf"/>
<rect x="144.5" y="473.78" width="3.2" height="3" rx="1" fill="#8c9eaf"/>
<rect x="150.29999999999998" y="473.98" width="4.2" height="2.6" fill="#9cadbc"/>
<circle cx="218.6" cy="374.8" r="2.3" fill="#cdd8e2"/>
<text transform="translate(221.60,376.80) scale(1.02,1)" font-family="Liberation Sans, sans-serif" font-size="5.6" font-weight="bold" fill="#c5d0db" text-anchor="start" >ROXNG</text>
<text transform="translate(206.60,407.20) scale(1.0,1)" font-family="Liberation Sans, sans-serif" font-size="3.9" font-weight="bold" fill="#a9b7c5" text-anchor="start" >ALARM ANNUNCIATOR</text>
<text transform="translate(206.60,413.00) scale(1.0,1)" font-family="Liberation Sans, sans-serif" font-size="3.9" font-weight="bold" fill="#a9b7c5" text-anchor="start" >BJ-24</text>
<text x="219 225.2 231.4 237.6 243.8" y="413.2" font-family="'Liberation Sans', 'Noto Sans CJK SC', sans-serif" font-size="4.4" fill="#b9c5d1" stroke="#b9c5d1" stroke-width="0.2" text-anchor="start">监测报警板</text>
<rect x="198.20" y="455.50" width="12.80" height="12.80" rx="1.5" fill="none" stroke="#8fa0b1" stroke-width="1" />
<rect x="201.2" y="458.8" width="6.8" height="1.8" fill="#a9b8c6"/>
<rect x="201.79999999999998" y="462.6" width="5.6" height="2.4" fill="#c9d3dd"/>
<rect x="213.70" y="455.50" width="12.80" height="12.80" rx="1.5" fill="none" stroke="#8fa0b1" stroke-width="1" />
<rect x="216.7" y="458.8" width="6.8" height="1.8" fill="#a9b8c6"/>
<rect x="217.29999999999998" y="462.6" width="5.6" height="2.4" fill="#c9d3dd"/>
<rect x="228.90" y="455.50" width="12.80" height="12.80" rx="1.5" fill="none" stroke="#8fa0b1" stroke-width="1" />
<rect x="231.9" y="458.8" width="6.8" height="1.8" fill="#a9b8c6"/>
<rect x="232.5" y="462.6" width="5.6" height="2.4" fill="#c9d3dd"/>
<rect x="200.4" y="447.9" width="8" height="2.9" fill="#c6d0da"/>
<rect x="85.4" y="482.2" width="74" height="1.4" fill="#8799ab"/>
<rect x="87.60" y="485.2" width="2.6" height="2.8" fill="#c7d1db"/>
<rect x="92.95" y="485.2" width="2.6" height="2.8" fill="#c7d1db"/>
<rect x="98.30" y="485.2" width="2.6" height="2.8" fill="#c7d1db"/>
<rect x="103.65" y="485.2" width="2.6" height="2.8" fill="#c7d1db"/>
<rect x="109.00" y="485.2" width="2.6" height="2.8" fill="#c7d1db"/>
<rect x="114.35" y="485.2" width="2.6" height="2.8" fill="#c7d1db"/>
<rect x="119.70" y="485.2" width="2.6" height="2.8" fill="#c7d1db"/>
<rect x="125.05" y="485.2" width="2.6" height="2.8" fill="#c7d1db"/>
<rect x="130.40" y="485.2" width="2.6" height="2.8" fill="#c7d1db"/>
<rect x="135.75" y="485.2" width="2.6" height="2.8" fill="#c7d1db"/>
<rect x="141.10" y="485.2" width="2.6" height="2.8" fill="#c7d1db"/>
<rect x="146.45" y="485.2" width="2.6" height="2.8" fill="#c7d1db"/>
<rect x="151.80" y="485.2" width="2.6" height="2.8" fill="#c7d1db"/>
</g>
<rect x="356.40" y="362.60" width="162.00" height="108.20" rx="1" fill="#fff" stroke="#161616" stroke-width="1.2" />
<path d="M370.4,364.5 L504.30000000000007,364.5 Q507.30000000000007,364.5 507.30000000000007,367.5 L507.30000000000007,371.5 Q507.30000000000007,374.5 510.30000000000007,374.5 L516.7,374.5 L516.7,458.9 L510.30000000000007,458.9 Q507.30000000000007,458.9 507.30000000000007,461.9 L507.30000000000007,465.9 Q507.30000000000007,468.9 504.30000000000007,468.9 L370.4,468.9 Q367.4,468.9 367.4,465.9 L367.4,461.9 Q367.4,458.9 364.4,458.9 L358,458.9 L358,374.5 L364.4,374.5 Q367.4,374.5 367.4,371.5 L367.4,367.5 Q367.4,364.5 370.4,364.5 Z" fill="none" stroke="#161616" stroke-width="1.3"/>
<line x1="369.00" y1="364.20" x2="505.60" y2="364.20" stroke="#111" stroke-width="1.9" />
<line x1="369.00" y1="469.10" x2="505.60" y2="469.10" stroke="#111" stroke-width="1.9" />
<line x1="358.00" y1="376.50" x2="358.00" y2="457.00" stroke="#111" stroke-width="2.0" />
<circle cx="360.90" cy="368.50" r="1.9" fill="#fff" stroke="#111" stroke-width="1.1"/>
<circle cx="512.60" cy="368.30" r="1.9" fill="#fff" stroke="#111" stroke-width="1.1"/>
<circle cx="360.90" cy="464.60" r="1.9" fill="#fff" stroke="#111" stroke-width="1.1"/>
<circle cx="512.60" cy="464.60" r="1.9" fill="#fff" stroke="#111" stroke-width="1.1"/>
<rect x="384.80" y="375.80" width="26.40" height="79.10" rx="1.4" fill="none" stroke="#161616" stroke-width="1.4" />
<line x1="384.80" y1="382.39" x2="411.20" y2="382.39" stroke="#111" stroke-width="1.4" />
<line x1="384.80" y1="388.98" x2="411.20" y2="388.98" stroke="#111" stroke-width="1.4" />
<line x1="384.80" y1="395.57" x2="411.20" y2="395.57" stroke="#111" stroke-width="1.4" />
<line x1="384.80" y1="402.16" x2="411.20" y2="402.16" stroke="#111" stroke-width="1.4" />
<line x1="384.80" y1="408.75" x2="411.20" y2="408.75" stroke="#111" stroke-width="1.4" />
<line x1="384.80" y1="415.34" x2="411.20" y2="415.34" stroke="#111" stroke-width="1.4" />
<line x1="384.80" y1="421.93" x2="411.20" y2="421.93" stroke="#111" stroke-width="1.4" />
<line x1="384.80" y1="428.52" x2="411.20" y2="428.52" stroke="#111" stroke-width="1.4" />
<line x1="384.80" y1="435.11" x2="411.20" y2="435.11" stroke="#111" stroke-width="1.4" />
<line x1="384.80" y1="441.70" x2="411.20" y2="441.70" stroke="#111" stroke-width="1.4" />
<line x1="384.80" y1="448.29" x2="411.20" y2="448.29" stroke="#111" stroke-width="1.4" />
<rect x="430.70" y="375.80" width="26.90" height="79.10" rx="1.4" fill="none" stroke="#161616" stroke-width="1.4" />
<line x1="430.70" y1="382.39" x2="457.60" y2="382.39" stroke="#111" stroke-width="1.4" />
<line x1="430.70" y1="388.98" x2="457.60" y2="388.98" stroke="#111" stroke-width="1.4" />
<line x1="430.70" y1="395.57" x2="457.60" y2="395.57" stroke="#111" stroke-width="1.4" />
<line x1="430.70" y1="402.16" x2="457.60" y2="402.16" stroke="#111" stroke-width="1.4" />
<line x1="430.70" y1="408.75" x2="457.60" y2="408.75" stroke="#111" stroke-width="1.4" />
<line x1="430.70" y1="415.34" x2="457.60" y2="415.34" stroke="#111" stroke-width="1.4" />
<line x1="430.70" y1="421.93" x2="457.60" y2="421.93" stroke="#111" stroke-width="1.4" />
<line x1="430.70" y1="428.52" x2="457.60" y2="428.52" stroke="#111" stroke-width="1.4" />
<line x1="430.70" y1="435.11" x2="457.60" y2="435.11" stroke="#111" stroke-width="1.4" />
<line x1="430.70" y1="441.70" x2="457.60" y2="441.70" stroke="#111" stroke-width="1.4" />
<line x1="430.70" y1="448.29" x2="457.60" y2="448.29" stroke="#111" stroke-width="1.4" />
<line x1="372.50" y1="379.50" x2="377.40" y2="379.50" stroke="#111" stroke-width="0.6" />
<circle cx="372.50" cy="379.50" r="1.2" fill="#fff" stroke="#111" stroke-width="1.1"/>
<circle cx="377.40" cy="379.50" r="1.2" fill="#fff" stroke="#111" stroke-width="1.1"/>
<rect x="379.9" y="378.10" width="2.4" height="2.8" fill="#161616"/>
<line x1="372.50" y1="386.06" x2="377.40" y2="386.06" stroke="#111" stroke-width="0.6" />
<circle cx="372.50" cy="386.06" r="1.2" fill="#fff" stroke="#111" stroke-width="1.1"/>
<circle cx="377.40" cy="386.06" r="1.2" fill="#fff" stroke="#111" stroke-width="1.1"/>
<rect x="379.9" y="384.66" width="2.4" height="2.8" fill="#161616"/>
<line x1="372.50" y1="392.62" x2="377.40" y2="392.62" stroke="#111" stroke-width="0.6" />
<circle cx="372.50" cy="392.62" r="1.2" fill="#fff" stroke="#111" stroke-width="1.1"/>
<circle cx="377.40" cy="392.62" r="1.2" fill="#fff" stroke="#111" stroke-width="1.1"/>
<rect x="379.9" y="391.22" width="2.4" height="2.8" fill="#161616"/>
<line x1="372.50" y1="399.18" x2="377.40" y2="399.18" stroke="#111" stroke-width="0.6" />
<circle cx="372.50" cy="399.18" r="1.2" fill="#fff" stroke="#111" stroke-width="1.1"/>
<circle cx="377.40" cy="399.18" r="1.2" fill="#fff" stroke="#111" stroke-width="1.1"/>
<rect x="379.9" y="397.78" width="2.4" height="2.8" fill="#161616"/>
<line x1="372.50" y1="405.74" x2="377.40" y2="405.74" stroke="#111" stroke-width="0.6" />
<circle cx="372.50" cy="405.74" r="1.2" fill="#fff" stroke="#111" stroke-width="1.1"/>
<circle cx="377.40" cy="405.74" r="1.2" fill="#fff" stroke="#111" stroke-width="1.1"/>
<rect x="379.9" y="404.34" width="2.4" height="2.8" fill="#161616"/>
<line x1="372.50" y1="412.30" x2="377.40" y2="412.30" stroke="#111" stroke-width="0.6" />
<circle cx="372.50" cy="412.30" r="1.2" fill="#fff" stroke="#111" stroke-width="1.1"/>
<circle cx="377.40" cy="412.30" r="1.2" fill="#fff" stroke="#111" stroke-width="1.1"/>
<rect x="379.9" y="410.90" width="2.4" height="2.8" fill="#161616"/>
<line x1="372.50" y1="418.86" x2="377.40" y2="418.86" stroke="#111" stroke-width="0.6" />
<circle cx="372.50" cy="418.86" r="1.2" fill="#fff" stroke="#111" stroke-width="1.1"/>
<circle cx="377.40" cy="418.86" r="1.2" fill="#fff" stroke="#111" stroke-width="1.1"/>
<rect x="379.9" y="417.46" width="2.4" height="2.8" fill="#161616"/>
<line x1="372.50" y1="425.42" x2="377.40" y2="425.42" stroke="#111" stroke-width="0.6" />
<circle cx="372.50" cy="425.42" r="1.2" fill="#fff" stroke="#111" stroke-width="1.1"/>
<circle cx="377.40" cy="425.42" r="1.2" fill="#fff" stroke="#111" stroke-width="1.1"/>
<rect x="379.9" y="424.02" width="2.4" height="2.8" fill="#161616"/>
<line x1="372.50" y1="431.98" x2="377.40" y2="431.98" stroke="#111" stroke-width="0.6" />
<circle cx="372.50" cy="431.98" r="1.2" fill="#fff" stroke="#111" stroke-width="1.1"/>
<circle cx="377.40" cy="431.98" r="1.2" fill="#fff" stroke="#111" stroke-width="1.1"/>
<rect x="379.9" y="430.58" width="2.4" height="2.8" fill="#161616"/>
<line x1="372.50" y1="438.54" x2="377.40" y2="438.54" stroke="#111" stroke-width="0.6" />
<circle cx="372.50" cy="438.54" r="1.2" fill="#fff" stroke="#111" stroke-width="1.1"/>
<circle cx="377.40" cy="438.54" r="1.2" fill="#fff" stroke="#111" stroke-width="1.1"/>
<rect x="379.9" y="437.14" width="3.6" height="2.8" fill="#161616"/>
<line x1="372.50" y1="445.10" x2="377.40" y2="445.10" stroke="#111" stroke-width="0.6" />
<circle cx="372.50" cy="445.10" r="1.2" fill="#fff" stroke="#111" stroke-width="1.1"/>
<circle cx="377.40" cy="445.10" r="1.2" fill="#fff" stroke="#111" stroke-width="1.1"/>
<rect x="379.9" y="443.70" width="3.6" height="2.8" fill="#161616"/>
<line x1="372.50" y1="451.66" x2="377.40" y2="451.66" stroke="#111" stroke-width="0.6" />
<circle cx="372.50" cy="451.66" r="1.2" fill="#fff" stroke="#111" stroke-width="1.1"/>
<circle cx="377.40" cy="451.66" r="1.2" fill="#fff" stroke="#111" stroke-width="1.1"/>
<rect x="379.9" y="450.26" width="3.6" height="2.8" fill="#161616"/>
<line x1="418.10" y1="379.50" x2="423.00" y2="379.50" stroke="#111" stroke-width="0.6" />
<circle cx="418.10" cy="379.50" r="1.2" fill="#fff" stroke="#111" stroke-width="1.1"/>
<circle cx="423.00" cy="379.50" r="1.2" fill="#fff" stroke="#111" stroke-width="1.1"/>
<rect x="426.1" y="378.10" width="2.4" height="2.8" fill="#161616"/>
<line x1="418.10" y1="386.06" x2="423.00" y2="386.06" stroke="#111" stroke-width="0.6" />
<circle cx="418.10" cy="386.06" r="1.2" fill="#fff" stroke="#111" stroke-width="1.1"/>
<circle cx="423.00" cy="386.06" r="1.2" fill="#fff" stroke="#111" stroke-width="1.1"/>
<rect x="426.1" y="384.66" width="2.4" height="2.8" fill="#161616"/>
<line x1="418.10" y1="392.62" x2="423.00" y2="392.62" stroke="#111" stroke-width="0.6" />
<circle cx="418.10" cy="392.62" r="1.2" fill="#fff" stroke="#111" stroke-width="1.1"/>
<circle cx="423.00" cy="392.62" r="1.2" fill="#fff" stroke="#111" stroke-width="1.1"/>
<rect x="426.1" y="391.22" width="2.4" height="2.8" fill="#161616"/>
<line x1="418.10" y1="399.18" x2="423.00" y2="399.18" stroke="#111" stroke-width="0.6" />
<circle cx="418.10" cy="399.18" r="1.2" fill="#fff" stroke="#111" stroke-width="1.1"/>
<circle cx="423.00" cy="399.18" r="1.2" fill="#fff" stroke="#111" stroke-width="1.1"/>
<rect x="426.1" y="397.78" width="2.4" height="2.8" fill="#161616"/>
<line x1="418.10" y1="405.74" x2="423.00" y2="405.74" stroke="#111" stroke-width="0.6" />
<circle cx="418.10" cy="405.74" r="1.2" fill="#fff" stroke="#111" stroke-width="1.1"/>
<circle cx="423.00" cy="405.74" r="1.2" fill="#fff" stroke="#111" stroke-width="1.1"/>
<rect x="426.1" y="404.34" width="2.4" height="2.8" fill="#161616"/>
<line x1="418.10" y1="412.30" x2="423.00" y2="412.30" stroke="#111" stroke-width="0.6" />
<circle cx="418.10" cy="412.30" r="1.2" fill="#fff" stroke="#111" stroke-width="1.1"/>
<circle cx="423.00" cy="412.30" r="1.2" fill="#fff" stroke="#111" stroke-width="1.1"/>
<rect x="426.1" y="410.90" width="2.4" height="2.8" fill="#161616"/>
<line x1="418.10" y1="418.86" x2="423.00" y2="418.86" stroke="#111" stroke-width="0.6" />
<circle cx="418.10" cy="418.86" r="1.2" fill="#fff" stroke="#111" stroke-width="1.1"/>
<circle cx="423.00" cy="418.86" r="1.2" fill="#fff" stroke="#111" stroke-width="1.1"/>
<rect x="426.1" y="417.46" width="2.4" height="2.8" fill="#161616"/>
<line x1="418.10" y1="425.42" x2="423.00" y2="425.42" stroke="#111" stroke-width="0.6" />
<circle cx="418.10" cy="425.42" r="1.2" fill="#fff" stroke="#111" stroke-width="1.1"/>
<circle cx="423.00" cy="425.42" r="1.2" fill="#fff" stroke="#111" stroke-width="1.1"/>
<rect x="426.1" y="424.02" width="2.4" height="2.8" fill="#161616"/>
<line x1="418.10" y1="431.98" x2="423.00" y2="431.98" stroke="#111" stroke-width="0.6" />
<circle cx="418.10" cy="431.98" r="1.2" fill="#fff" stroke="#111" stroke-width="1.1"/>
<circle cx="423.00" cy="431.98" r="1.2" fill="#fff" stroke="#111" stroke-width="1.1"/>
<rect x="426.1" y="430.58" width="2.4" height="2.8" fill="#161616"/>
<line x1="418.10" y1="438.54" x2="423.00" y2="438.54" stroke="#111" stroke-width="0.6" />
<circle cx="418.10" cy="438.54" r="1.2" fill="#fff" stroke="#111" stroke-width="1.1"/>
<circle cx="423.00" cy="438.54" r="1.2" fill="#fff" stroke="#111" stroke-width="1.1"/>
<rect x="426.1" y="437.14" width="3.6" height="2.8" fill="#161616"/>
<line x1="418.10" y1="445.10" x2="423.00" y2="445.10" stroke="#111" stroke-width="0.6" />
<circle cx="418.10" cy="445.10" r="1.2" fill="#fff" stroke="#111" stroke-width="1.1"/>
<circle cx="423.00" cy="445.10" r="1.2" fill="#fff" stroke="#111" stroke-width="1.1"/>
<rect x="426.1" y="443.70" width="3.6" height="2.8" fill="#161616"/>
<line x1="418.10" y1="451.66" x2="423.00" y2="451.66" stroke="#111" stroke-width="0.6" />
<circle cx="418.10" cy="451.66" r="1.2" fill="#fff" stroke="#111" stroke-width="1.1"/>
<circle cx="423.00" cy="451.66" r="1.2" fill="#fff" stroke="#111" stroke-width="1.1"/>
<rect x="426.1" y="450.26" width="3.6" height="2.8" fill="#161616"/>
<path d="M486.2,369.8 L487.2,374.5 L488.6,373.6 L489.6,372.2 L490.6,374 L492.4,374.2 L493.8,373.2 L494.6,370.8 L495.6,375.5 L496.6,377.5 L497.2,380 L498.6,381.6 L496.8,381.8 L497,383.4 L495.4,383.2 L494.2,384 L493.4,386.4 L492.6,384.2 L491,384.4 L490,385.4 L489.2,384.2 L487.6,385 L486,387.2 L485.6,382 L485.4,379.2 L481.8,378.6 L485.2,377.6 L483.4,376 L485.6,375.6 Z" fill="#161616" stroke="#161616" stroke-width="0.4" stroke-linejoin="round"/>
<rect x="465.20" y="437.20" width="9.60" height="9.00" rx="1.2" fill="none" stroke="#161616" stroke-width="1.2" />
<rect x="467.2" y="439.7" width="5.6" height="4.2" fill="#161616"/>
<rect x="477.20" y="437.20" width="9.60" height="9.00" rx="1.2" fill="none" stroke="#161616" stroke-width="1.2" />
<rect x="479.2" y="439.7" width="5.6" height="4.2" fill="#161616"/>
<rect x="489.00" y="437.20" width="9.60" height="9.00" rx="1.2" fill="none" stroke="#161616" stroke-width="1.2" />
<rect x="491" y="439.7" width="5.6" height="4.2" fill="#161616"/>
<rect x="463.2" y="432.1" width="8" height="2.2" rx="1" fill="#161616"/>
<circle cx="464.2" cy="451.4" r="1.2" fill="#161616"/>
<text transform="translate(478.30,457.80) scale(1.08,1)" font-family="Liberation Sans, sans-serif" font-size="5.2" font-weight="bold" fill="#161616" text-anchor="start" font-style="italic" stroke="#161616" stroke-width="0.5">ROXNG</text>
<line x1="520.60" y1="362.80" x2="539.70" y2="362.80" stroke="#111" stroke-width="1.2" />
<line x1="520.60" y1="470.80" x2="539.70" y2="470.80" stroke="#111" stroke-width="1.2" />
<line x1="535.30" y1="362.80" x2="535.30" y2="470.80" stroke="#111" stroke-width="1.4" />
<polygon points="535.30,362.80 537.40,372.80 533.20,372.80" fill="#111"/>
<polygon points="535.30,470.80 533.20,460.80 537.40,460.80" fill="#111"/>
<text transform="translate(533.00,416.00) rotate(-90) scale(1.0,1)" font-family="Liberation Sans, sans-serif" font-size="13" font-weight="normal" fill="#161616" text-anchor="middle"  stroke="#161616" stroke-width="0.25">150</text>
<line x1="356.40" y1="473.00" x2="356.40" y2="507.00" stroke="#111" stroke-width="1.2" />
<line x1="518.00" y1="473.00" x2="518.00" y2="507.00" stroke="#111" stroke-width="1.2" />
<line x1="356.40" y1="502.50" x2="518.00" y2="502.50" stroke="#111" stroke-width="1.2" />
<polygon points="356.40,502.50 366.40,500.40 366.40,504.60" fill="#111"/>
<polygon points="518.00,502.50 508.00,504.60 508.00,500.40" fill="#111"/>
<text transform="translate(434.80,500.30) scale(1.0,1)" font-family="Liberation Sans, sans-serif" font-size="13" font-weight="normal" fill="#161616" text-anchor="middle"  stroke="#161616" stroke-width="0.25">240</text>
<rect x="559.30" y="365.60" width="149.70" height="102.30" rx="0" fill="none" stroke="#161616" stroke-width="1.6" />
<circle cx="550.60" cy="369.00" r="1.9" fill="#fff" stroke="#111" stroke-width="1.1"/>
<circle cx="550.60" cy="464.20" r="1.9" fill="#fff" stroke="#111" stroke-width="1.1"/>
<circle cx="716.30" cy="369.00" r="1.9" fill="#fff" stroke="#111" stroke-width="1.1"/>
<circle cx="716.30" cy="464.20" r="1.9" fill="#fff" stroke="#111" stroke-width="1.1"/>
<line x1="711.00" y1="365.60" x2="762.00" y2="365.60" stroke="#111" stroke-width="1.4" />
<line x1="718.30" y1="369.00" x2="743.00" y2="369.00" stroke="#111" stroke-width="1.2" />
<line x1="718.30" y1="464.20" x2="743.00" y2="464.20" stroke="#111" stroke-width="1.2" />
<line x1="711.00" y1="468.00" x2="762.00" y2="468.00" stroke="#111" stroke-width="1.5" />
<line x1="738.00" y1="369.00" x2="738.00" y2="464.20" stroke="#111" stroke-width="1.3" />
<polygon points="738.00,369.00 740.10,379.00 735.90,379.00" fill="#111"/>
<polygon points="738.00,464.20 735.90,454.20 740.10,454.20" fill="#111"/>
<line x1="757.50" y1="365.60" x2="757.50" y2="468.00" stroke="#111" stroke-width="1.3" />
<polygon points="757.50,365.60 759.60,375.60 755.40,375.60" fill="#111"/>
<polygon points="757.50,468.00 755.40,458.00 759.60,458.00" fill="#111"/>
<text transform="translate(735.60,415.70) rotate(-90) scale(1.0,1)" font-family="Liberation Sans, sans-serif" font-size="13" font-weight="normal" fill="#161616" text-anchor="middle"  stroke="#161616" stroke-width="0.25">136</text>
<text transform="translate(752.80,415.70) rotate(-90) scale(1.0,1)" font-family="Liberation Sans, sans-serif" font-size="13" font-weight="normal" fill="#161616" text-anchor="middle"  stroke="#161616" stroke-width="0.25">142</text>
<line x1="559.30" y1="470.50" x2="559.30" y2="490.50" stroke="#111" stroke-width="1.3" />
<line x1="709.00" y1="470.50" x2="709.00" y2="490.50" stroke="#111" stroke-width="1.3" />
<line x1="559.30" y1="484.90" x2="708.80" y2="484.90" stroke="#111" stroke-width="1.2" />
<polygon points="559.30,484.90 569.30,482.80 569.30,487.00" fill="#111"/>
<polygon points="708.80,484.90 698.80,487.00 698.80,482.80" fill="#111"/>
<text transform="translate(631.70,483.30) scale(1.0,1)" font-family="Liberation Sans, sans-serif" font-size="13" font-weight="normal" fill="#161616" text-anchor="middle"  stroke="#161616" stroke-width="0.25">216</text>
<line x1="550.60" y1="466.20" x2="550.60" y2="507.00" stroke="#111" stroke-width="1.3" />
<line x1="716.00" y1="466.20" x2="716.00" y2="507.00" stroke="#111" stroke-width="1.4" />
<line x1="550.60" y1="502.40" x2="716.30" y2="502.40" stroke="#111" stroke-width="1.2" />
<polygon points="550.60,502.40 560.60,500.30 560.60,504.50" fill="#111"/>
<polygon points="716.30,502.40 706.30,504.50 706.30,500.30" fill="#111"/>
<text transform="translate(631.70,500.70) scale(1.0,1)" font-family="Liberation Sans, sans-serif" font-size="13" font-weight="normal" fill="#161616" text-anchor="middle"  stroke="#161616" stroke-width="0.25">226</text>
<polyline points="717.4,466 743,495.3 783.6,495.3" fill="none" stroke="#161616" stroke-width="1.3"/>
<text transform="translate(747.00,492.30) scale(1.13,1)" font-family="Liberation Sans, sans-serif" font-size="11.6" font-weight="bold" fill="#161616" text-anchor="start" >4-M4</text>
<text x="560.7" y="521.6" font-family="'Liberation Sans', 'Noto Sans CJK SC', sans-serif" font-size="14" fill="#2d6a49" text-anchor="start">（</text>
<text x="577.1" y="521.6" font-family="'Liberation Sans', 'Noto Sans CJK SC', sans-serif" font-size="13.1" fill="#2d6a49" stroke="#2d6a49" stroke-width="0.2" text-anchor="start">嵌入深度</text>
<text transform="translate(637.50,520.30) scale(1.0,1)" font-family="Liberation Sans, sans-serif" font-size="13.3" font-weight="normal" fill="#2d6a49" text-anchor="start"  stroke="#2d6a49" stroke-width="0.25">depth:90</text>
<text x="698.5" y="521.6" font-family="'Liberation Sans', 'Noto Sans CJK SC', sans-serif" font-size="14" fill="#2d6a49" text-anchor="start">）</text></svg></body></html>
